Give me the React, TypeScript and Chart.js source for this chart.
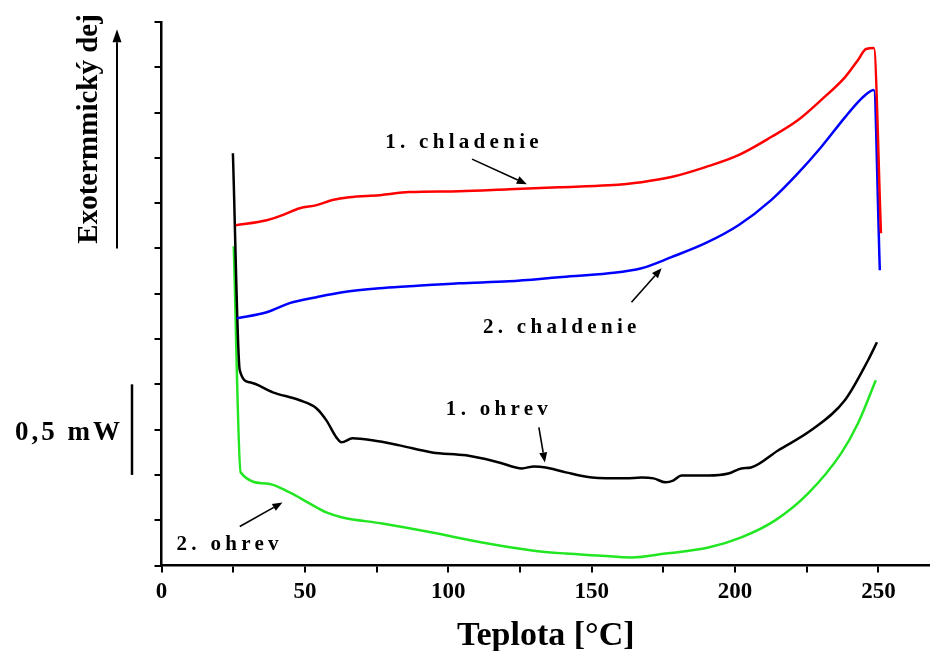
import { useEffect, useRef } from "react";
import { Chart, registerables } from "chart.js";

Chart.register(...registerables);

// Temperature [°C] and heat flow [mW] for each DSC run
const chl1T = [25.9, 36.7, 42.2, 48.2, 54.1, 59.6, 65.5, 76.0, 86.4, 103.8, 121.2, 138.6, 156.0, 167.4, 177.8, 189.7, 201.2, 212.6, 222.0, 230.0, 238.4, 242.9, 245.7, 248.4, 250.9];
const chl1Q = [1.878, 1.906, 1.934, 1.972, 1.989, 2.017, 2.033, 2.044, 2.061, 2.066, 2.077, 2.088, 2.099, 2.116, 2.144, 2.199, 2.265, 2.365, 2.459, 2.569, 2.696, 2.790, 2.851, 2.856, 1.834];

const chl2T = [26.3, 36.7, 44.7, 54.1, 63.1, 76.0, 86.4, 103.8, 121.2, 138.6, 156.0, 167.4, 177.8, 189.7, 201.2, 212.6, 222.0, 230.0, 238.4, 242.9, 246.3, 248.4, 250.5];
const chl2Q = [1.365, 1.398, 1.448, 1.481, 1.508, 1.530, 1.541, 1.558, 1.569, 1.591, 1.613, 1.641, 1.702, 1.779, 1.878, 2.017, 2.166, 2.309, 2.475, 2.558, 2.608, 2.624, 1.630];

const ohr1T = [24.9, 27.3, 30.8, 38.8, 48.2, 54.1, 57.5, 61.0, 62.8, 66.6, 73.5, 83.0, 94.4, 106.2, 117.7, 125.7, 129.9, 134.0, 141.0, 150.1, 161.9, 167.4, 171.6, 175.8, 178.6, 181.3, 190.7, 197.7, 202.2, 205.6, 215.0, 226.5, 238.3, 246.4, 249.5];
const ohr1Q = [2.276, 1.077, 1.011, 0.956, 0.912, 0.867, 0.801, 0.707, 0.680, 0.702, 0.691, 0.663, 0.624, 0.608, 0.569, 0.536, 0.547, 0.541, 0.514, 0.486, 0.481, 0.486, 0.481, 0.459, 0.470, 0.497, 0.497, 0.508, 0.536, 0.541, 0.635, 0.746, 0.912, 1.133, 1.232];

const ohr2T = [25.2, 27.6, 36.7, 44.7, 51.6, 57.5, 63.1, 77.0, 94.4, 111.8, 129.2, 141.0, 152.5, 163.9, 175.8, 190.7, 202.2, 214.0, 225.5, 237.0, 242.9, 249.1];
const ohr2Q = [1.762, 0.514, 0.453, 0.403, 0.343, 0.293, 0.265, 0.232, 0.182, 0.127, 0.083, 0.066, 0.055, 0.044, 0.066, 0.099, 0.155, 0.249, 0.398, 0.619, 0.785, 1.022];

// Tick marks every 25 °C, labelled every 50 °C
const xTicks = [0, 25, 50, 75, 100, 125, 150, 175, 200, 225, 250];
const xTickLabels = [0, 50, 100, 150, 200, 250];

const SERIF = '"Liberation Serif", "Times New Roman", serif';

type Note = {
  text: string;
  x: number;
  y: number;
  from: [number, number];
  to: [number, number];
};

// Curve labels with arrows, in data coordinates
const notes: Note[] = [
  { text: "1. chladenie", x: 104.8, y: 2.304, from: [108.3, 2.243], to: [127.4, 2.105] },
  { text: "2. chaldenie", x: 138.9, y: 1.282, from: [163.9, 1.453], to: [174.4, 1.641] },
  { text: "1. ohrev", x: 117.0, y: 0.829, from: [131.6, 0.762], to: [133.7, 0.569] },
  { text: "2. ohrev", x: 23.1, y: 0.083, from: [27.3, 0.215], to: [42.2, 0.348] },
];

const pts = (xs: number[], ys: number[]) => xs.map((x, i) => ({ x, y: ys[i] }));

function drawArrow(
  ctx: CanvasRenderingContext2D,
  x1: number,
  y1: number,
  x2: number,
  y2: number,
  head: number,
  half: number,
  width: number
) {
  const a = Math.atan2(y2 - y1, x2 - x1);
  const bx = x2 - head * Math.cos(a);
  const by = y2 - head * Math.sin(a);
  ctx.save();
  ctx.strokeStyle = "#000";
  ctx.fillStyle = "#000";
  ctx.lineWidth = width;
  ctx.beginPath();
  ctx.moveTo(x1, y1);
  ctx.lineTo(bx, by);
  ctx.stroke();
  ctx.beginPath();
  ctx.moveTo(x2, y2);
  ctx.lineTo(bx + half * Math.sin(a), by - half * Math.cos(a));
  ctx.lineTo(bx - half * Math.sin(a), by + half * Math.cos(a));
  ctx.closePath();
  ctx.fill();
  ctx.restore();
}

const annotate = {
  id: "dscAnnotations",
  afterDraw(chart: any) {
    const { ctx, chartArea, scales } = chart;
    const xs = scales.x;
    const ys = scales.y;
    const left = chartArea.left;

    ctx.save();
    ctx.fillStyle = "#000";

    // Vertical axis caption with the exotherm direction arrow
    ctx.save();
    ctx.translate(left - 65, ys.getPixelForValue(2.41));
    ctx.rotate(-Math.PI / 2);
    ctx.font = `bold 29px ${SERIF}`;
    ctx.textAlign = "center";
    ctx.textBaseline = "alphabetic";
    ctx.fillText("Exotermmický dej", 0, 0);
    ctx.restore();
    drawArrow(ctx, left - 44.5, ys.getPixelForValue(1.75), left - 44.5, ys.getPixelForValue(2.96), 13, 4.5, 2);

    // 0,5 mW scale bar
    ctx.strokeStyle = "#000";
    ctx.lineWidth = 2.5;
    ctx.beginPath();
    ctx.moveTo(left - 29.5, ys.getPixelForValue(0.5));
    ctx.lineTo(left - 29.5, ys.getPixelForValue(1.0));
    ctx.stroke();
    ctx.font = `bold 27px ${SERIF}`;
    (ctx as any).letterSpacing = "3px";
    ctx.textAlign = "right";
    ctx.textBaseline = "alphabetic";
    ctx.fillText("0,5 mW", left - 38.5, ys.getPixelForValue(0.69));

    // Curve labels
    ctx.font = `bold 21px ${SERIF}`;
    (ctx as any).letterSpacing = "4.3px";
    ctx.textAlign = "center";
    for (const n of notes) {
      ctx.fillText(n.text, xs.getPixelForValue(n.x) + 2, ys.getPixelForValue(n.y));
      drawArrow(
        ctx,
        xs.getPixelForValue(n.from[0]),
        ys.getPixelForValue(n.from[1]),
        xs.getPixelForValue(n.to[0]),
        ys.getPixelForValue(n.to[1]),
        10,
        4,
        1.6
      );
    }
    (ctx as any).letterSpacing = "0px";
    ctx.restore();
  },
};

export default function App() {
  const ref = useRef<HTMLCanvasElement>(null);

  useEffect(() => {
    const line = (data: { x: number; y: number }[], color: string) => ({
      data,
      borderColor: color,
      backgroundColor: color,
      borderWidth: 2.5,
      pointRadius: 0,
      fill: false,
      cubicInterpolationMode: "monotone" as const,
    });

    const chart = new Chart(ref.current!, {
      type: "line",
      data: {
        datasets: [
          { label: "1. chladenie", ...line(pts(chl1T, chl1Q), "#ff0000") },
          { label: "2. chaldenie", ...line(pts(chl2T, chl2Q), "#0000ff") },
          { label: "1. ohrev", ...line(pts(ohr1T, ohr1Q), "#000000") },
          { label: "2. ohrev", ...line(pts(ohr2T, ohr2Q), "#22e622") },
        ],
      },
      options: {
        responsive: false,
        animation: false,
        layout: { padding: { left: 154.5, top: 22, right: 0, bottom: 0 } },
        plugins: {
          legend: { display: false },
          tooltip: { enabled: false },
        },
        scales: {
          x: {
            type: "linear",
            min: 0,
            max: 268,
            afterBuildTicks: (scale: any) => {
              scale.ticks = xTicks.map((value) => ({ value }));
            },
            ticks: {
              autoSkip: false,
              maxRotation: 0,
              padding: 6,
              color: "#000",
              font: { family: SERIF, size: 23, weight: "bold" },
              callback: (v: any) => (xTickLabels.includes(Number(v)) ? String(v) : ""),
            },
            grid: { drawOnChartArea: false, color: "#000", lineWidth: 2, tickLength: 7 },
            border: { display: true, color: "#000", width: 2.5 },
            title: {
              display: true,
              text: "Teplota [°C]",
              color: "#000",
              font: { family: SERIF, size: 34, weight: "bold", lineHeight: 0.85 },
              padding: { top: 10, bottom: 0 },
            },
          },
          y: {
            type: "linear",
            min: 0,
            max: 3,
            ticks: { display: false, stepSize: 0.25 },
            grid: { drawOnChartArea: false, color: "#000", lineWidth: 2, tickLength: 7 },
            border: { display: true, color: "#000", width: 2.5 },
          },
        },
      },
      plugins: [annotate],
    });

    return () => chart.destroy();
  }, []);

  return (
    <canvas
      ref={ref}
      width={930}
      height={651}
      style={{ position: "absolute", left: 0, top: 0, background: "#fff" }}
    />
  );
}
